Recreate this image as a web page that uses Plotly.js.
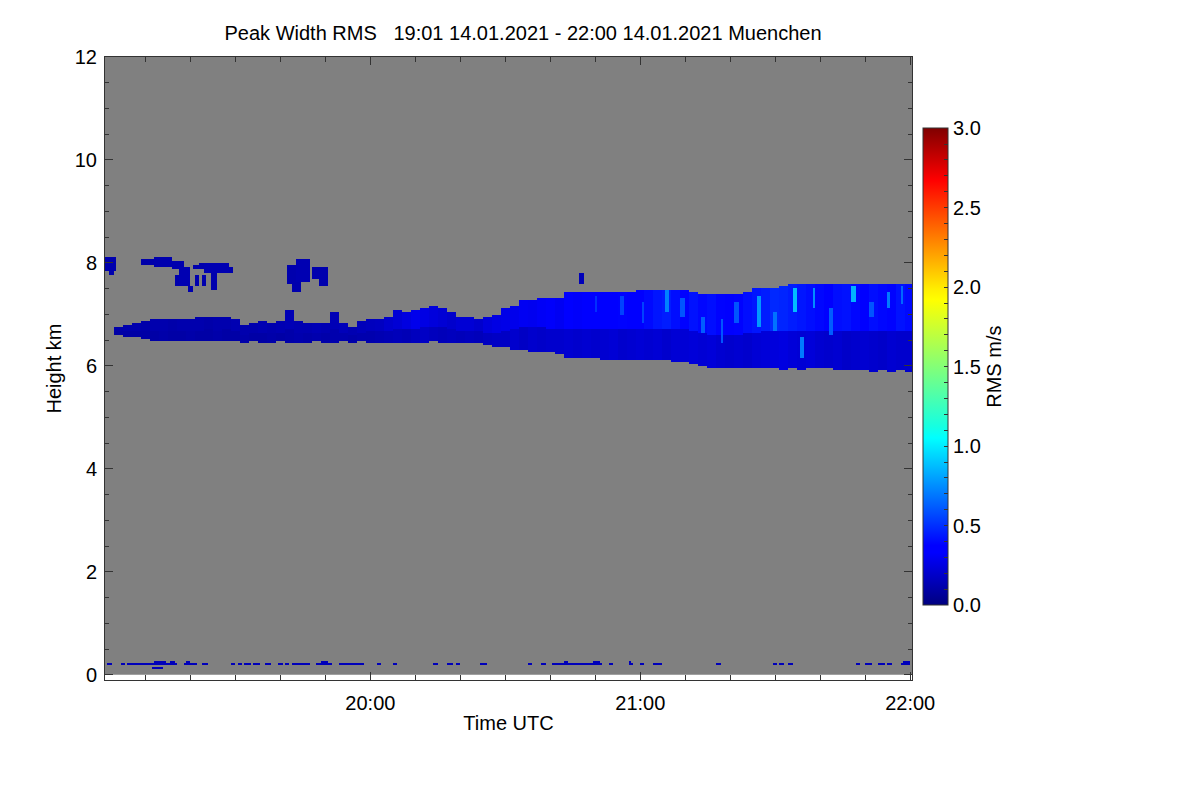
<!DOCTYPE html>
<html>
<head>
<meta charset="utf-8">
<script src="https://cdn.plot.ly/plotly-3.0.1.min.js"></script>
<style>html,body{margin:0;padding:0;background:#fff;}#chart{width:1200px;height:800px;}</style>
</head>
<body>
<div id="chart"></div>
<script>
// ---------- DATA ----------
// time in minutes after 19:00 UTC, height in km, values = Peak Width RMS in m/s
const titleText = "Peak Width RMS\u00a0\u00a0\u00a019:01 14.01.2021 - 22:00 14.01.2021 Muenchen";
const xTickVals = [60, 120, 180];
const xTickText = ["20:00", "21:00", "22:00"];
const yTickVals = [0, 2, 4, 6, 8, 10, 12];
const cbTickVals = [0,0.1,0.2,0.3,0.4,0.5,0.6,0.7,0.8,0.9,1.0,1.1,1.2,1.3,1.4,1.5,1.6,1.7,1.8,1.9,2.0,2.1,2.2,2.3,2.4,2.5,2.6,2.7,2.8,2.9,3.0];
const cbTickText = ["0.0","","","","","0.5","","","","","1.0","","","","","1.5","","","","","2.0","","","","","2.5","","","","","3.0"];

// main cloud band, one entry per 2 minutes
const bandT = [2,4,6,8,10,12,14,16,18,20, 22,24,26,28,30,32,34,36,38,40, 42,44,46,48,50,52,54,56,58,60,
  62,64,66,68,70,72,74,76,78,80, 82,84,86,88,90,92,94,96,98,100, 102,104,106,108,110,112,114,116,118,120,
  122,124,126,128,130,132,134,136,138,140, 142,144,146,148,150,152,154,156,158,160, 162,164,166,168,170,172,174,176,178,180];
const bandBase = [null,6.62,6.58,6.55,6.52,6.50,6.50,6.48,6.50,6.50, 6.48,6.50,6.47,6.48,6.47,6.45,6.47,6.45,6.45,6.47,
  6.45,6.46,6.45,6.47,6.46,6.45,6.47,6.46,6.47,6.45, 6.45,6.46,6.45,6.45,6.45,6.46,6.47,6.46,6.45,6.45,
  6.44,6.45,6.40,6.36,6.35,6.34,6.32,6.30,6.30,6.28, 6.25,6.18,6.17,6.16,6.15,6.14,6.14,6.13,6.13,6.12,
  6.12,6.11,6.11,6.10,6.10,6.05,6.00,5.98,5.98,5.97, 5.96,5.96,5.95,5.96,5.95,5.94,5.96,5.93,5.95,5.96,
  5.95,5.94,5.93,5.92,5.93,5.90,5.91,5.90,5.92,5.90];
const bandTop = [null,6.74,6.80,6.83,6.88,6.90,6.92,6.90,6.93,6.92, 6.95,6.97,6.96,6.97,6.90,6.80,6.85,6.87,6.85,6.87,
  7.08,6.88,6.85,6.84,6.85,7.05,6.85,6.76,6.88,6.92, 6.93,6.95,7.08,7.05,7.08,7.12,7.15,7.12,7.02,6.95,
  6.95,6.93,6.95,6.98,7.12,7.15,7.28,7.28,7.30,7.30, 7.32,7.42,7.42,7.43,7.43,7.44,7.45,7.44,7.45,7.47,
  7.48,7.47,7.48,7.47,7.46,7.42,7.41,7.40,7.38,7.38, 7.38,7.45,7.52,7.53,7.53,7.54,7.60,7.60,7.61,7.60,
  7.60,7.59,7.61,7.60,7.58,7.60,7.59,7.60,7.61,7.60];
const rmsLow = [null,.10,.10,.10,.10,.10,.11,.10,.10,.11, .10,.10,.11,.10,.10,.11,.10,.10,.11,.10,
  .11,.12,.11,.12,.11,.12,.12,.11,.12,.12, .13,.14,.15,.14,.16,.18,.16,.15,.16,.15,
  .16,.15,.17,.18,.18,.20,.18,.20,.19,.20, .20,.21,.20,.21,.20,.21,.22,.20,.21,.22,
  .21,.22,.20,.22,.22,.23,.22,.23,.21,.20, .21,.20,.22,.23,.24,.25,.23,.22,.23,.21,
  .20,.21,.19,.20,.21,.20,.19,.21,.20,.20];
const rmsHigh = [null,.11,.12,.12,.11,.12,.12,.11,.12,.12, .12,.11,.12,.12,.13,.12,.12,.13,.12,.13,
  .14,.13,.13,.14,.13,.14,.15,.13,.15,.16, .17,.20,.22,.25,.28,.26,.24,.22,.20,.22,
  .22,.20,.24,.26,.27,.28,.30,.29,.31,.32, .30,.34,.32,.35,.37,.33,.36,.38,.35,.37,
  .40,.43,.45,.41,.38,.42,.39,.41,.38,.36, .38,.41,.43,.45,.48,.47,.45,.43,.41,.39,
  .37,.41,.42,.39,.37,.41,.39,.38,.42,.40];

// brighter streaks inside the band
const streakT0  = [125.5,133.5,141,146,149.5,154,155.5,158.5,167,171,175,115.5,129,120.5,162,178,110,138];
const streakT1  = [126.5,134.5,142,147,150.5,155,156.5,159,168,172,175.5,116.5,130,121,163,178.5,110.5,138.5];
const streakBot = [7.05,6.63,6.83,6.75,6.70,7.05,6.18,7.12,7.25,6.95,7.12,7.00,6.95,6.85,6.60,7.20,7.05,6.45];
const streakTop = [7.46,6.95,7.22,7.36,7.02,7.50,6.55,7.50,7.55,7.22,7.42,7.35,7.30,7.25,7.10,7.55,7.35,6.90];
const streakRms = [0.72,0.62,0.60,0.78,0.68,0.88,0.70,0.75,0.85,0.60,0.70,0.55,0.60,0.55,0.62,0.65,0.50,0.60];

// upper cloud fragments near 8 km
const fragT0  = [1.0,2.0,9.0,12.0,16.0,17.5,19.5,16.5,20.5,21.0,22.0,22.5,23.0,24.5,28.5,41.8,43.8,42.8,47.0,48.5,106.5];
const fragT1  = [3.5,3.0,12.0,16.0,18.5,20.0,20.5,17.5,22.0,22.0,23.0,23.5,28.5,26.0,29.5,43.8,46.2,44.5,48.2,50.5,107.5];
const fragBot = [7.86,7.75,7.96,7.93,7.87,7.57,7.45,7.55,7.87,7.55,7.87,7.58,7.80,7.50,7.80,7.62,7.65,7.44,7.70,7.57,7.60];
const fragTop = [8.12,7.86,8.08,8.10,8.05,7.90,7.57,7.75,7.96,7.75,7.98,7.75,8.00,7.80,7.90,7.96,8.06,7.65,7.90,7.93,7.78];
const fragRms = [0.12,0.12,0.11,0.12,0.12,0.13,0.12,0.12,0.12,0.12,0.12,0.12,0.13,0.12,0.12,0.12,0.13,0.12,0.12,0.12,0.15];

// near-ground clutter dashes
const clutterT0 = [1.5,4.8,6.4,7.4,8.7,11.5,18.9,22.6,29.1,30.7,32.0,34.0,36.7,39.8,41.0,42.6,44.4,48.3,53.3,61.8,65.2,74.0,77.4,79.3,84.8,
  95.0,98.3,100.7,101.9,105.2,106.4,107.6,109.4,113.3,117.6,120.4,123.3,124.4,137.2,149.9,151.1,153.3,168.3,170.1,173.3,175.0,178.3,
  12.4,15.6,19.1,49.0,103.2,109.6,117.6,178.5, 11.7];
const clutterT1 = [2.1,5.3,7.0,8.1,11.1,17.0,21.1,24.0,29.6,31.5,33.3,35.2,38.0,40.3,42.0,44.0,46.3,51.1,58.5,62.5,65.9,74.8,78.1,80.0,85.6,
  95.8,98.8,101.2,104.8,106.0,107.2,108.7,111.5,113.9,118.1,121.0,123.9,124.9,137.7,150.4,151.6,153.9,168.8,171.1,174.4,175.8,179.6,
  14.1,16.1,20.0,50.4,104.0,110.6,118.0,179.6, 13.7];
const clutterH = [0.21,0.21,0.21,0.21,0.21,0.21,0.21,0.21,0.21,0.21,0.21,0.21,0.21,0.21,0.21,0.21,0.21,0.21,0.21,0.21,0.21,0.21,0.21,0.21,0.21,
  0.21,0.21,0.21,0.21,0.21,0.21,0.21,0.21,0.21,0.21,0.21,0.21,0.21,0.21,0.21,0.21,0.21,0.21,0.21,0.21,0.21,0.21,
  0.27,0.27,0.27,0.27,0.27,0.27,0.27,0.27, 0.14];
const clutterRms = 0.15;

// ---------- GRID (built from the arrays above) ----------
const DX = 0.5, DY = 0.04;
const xs = []; for (let m = 1.25; m < 180.4; m += DX) xs.push(+m.toFixed(2));
const ys = []; for (let j = 0; j < 300; j++) ys.push(+(DY / 2 + j * DY).toFixed(3));
const z = ys.map(() => xs.map(() => null));
function overlaps(x, t0, t1) { return (x + DX / 2) > t0 && (x - DX / 2) < t1; }
xs.forEach((x, i) => {
  let k = Math.round(x / 2) - 1; k = Math.max(0, Math.min(bandT.length - 1, k));
  const b = bandBase[k], t = bandTop[k];
  if (b == null) return;
  const split = b + 0.45 * (t - b);
  ys.forEach((y, j) => { if (y >= b && y <= t) z[j][i] = y > split ? rmsHigh[k] : rmsLow[k]; });
});
function paintRects(T0, T1, B, T, V) {
  for (let f = 0; f < T0.length; f++) {
    xs.forEach((x, i) => {
      if (!overlaps(x, T0[f], T1[f])) return;
      ys.forEach((y, j) => { if (y >= B[f] && y <= T[f]) z[j][i] = V[f]; });
    });
  }
}
paintRects(streakT0, streakT1, streakBot, streakTop, streakRms);
paintRects(fragT0, fragT1, fragBot, fragTop, fragRms);
for (let c = 0; c < clutterT0.length; c++) {
  const j = Math.floor(clutterH[c] / DY);
  xs.forEach((x, i) => { if (overlaps(x, clutterT0[c], clutterT1[c])) z[j][i] = clutterRms; });
}

// ---------- PLOT ----------
const FONT = "Liberation Sans, Arial, Helvetica, sans-serif";
const jet = [[0,'#000080'],[0.11,'#0000ff'],[0.125,'#0000ff'],[0.35,'#00ffff'],[0.375,'#16ffe1'],[0.64,'#ffff00'],[0.66,'#fff000'],[0.89,'#ff0000'],[0.91,'#e80000'],[1,'#800000']];

const trace = {
  type: 'heatmap', x: xs, y: ys, z: z, zmin: 0, zmax: 3, zsmooth: false,
  colorscale: jet, hoverinfo: 'skip',
  colorbar: {
    x: 1.0136, xanchor: 'left', xpad: 0, y: 0.503, yanchor: 'middle', ypad: 0,
    thickness: 25, thicknessmode: 'pixels', len: 477, lenmode: 'pixels',
    outlinecolor: '#333', outlinewidth: 1,
    tickvals: cbTickVals, ticktext: cbTickText, ticks: 'inside', ticklen: 4, tickcolor: '#333',
    tickfont: {family: FONT, size: 20, color: '#000'},
    title: {text: 'RMS m/s', side: 'right', font: {family: FONT, size: 20, color: '#000'}}
  }
};

const layout = {
  width: 1200, height: 800,
  margin: {l: 105, r: 288, t: 57, b: 120, pad: 0},
  paper_bgcolor: '#ffffff', plot_bgcolor: '#ffffff',
  font: {family: FONT, size: 20, color: '#000'},
  title: {text: titleText, x: 0.518, xref: 'paper', xanchor: 'center', y: 0.959, yref: 'container', yanchor: 'middle',
          font: {family: FONT, size: 20, color: '#000'}},
  xaxis: {
    range: [1, 180.4], tickvals: xTickVals, ticktext: xTickText,
    ticks: 'inside', ticklen: 8, tickcolor: '#333', showline: true, linecolor: '#333', linewidth: 1,
    mirror: 'allticks', showgrid: false, zeroline: false, ticklabelstandoff: 5,
    minor: {dtick: 10, tick0: 0, ticks: 'inside', ticklen: 5, tickcolor: '#333', showgrid: false},
    tickfont: {family: FONT, size: 20}, title: {text: 'Time UTC', standoff: 2, font: {family: FONT, size: 20}}
  },
  yaxis: {
    range: [-0.1, 12], tickvals: yTickVals,
    ticks: 'inside', ticklen: 8, tickcolor: '#333', showline: true, linecolor: '#333', linewidth: 1,
    mirror: 'allticks', showgrid: false, zeroline: false, ticklabelstandoff: 3,
    minor: {dtick: 0.5, tick0: 0, ticks: 'inside', ticklen: 4, tickcolor: '#333', showgrid: false},
    tickfont: {family: FONT, size: 20}, title: {text: 'Height km', standoff: 7, font: {family: FONT, size: 20}}
  },
  shapes: [{type: 'rect', xref: 'x', yref: 'y', x0: 1, x1: 180.4, y0: 0, y1: 12, fillcolor: '#808080', line: {width: 0}, layer: 'below'}],
  showlegend: false
};

Plotly.newPlot('chart', [trace], layout, {displayModeBar: false, staticPlot: true});
</script>
</body>
</html>
